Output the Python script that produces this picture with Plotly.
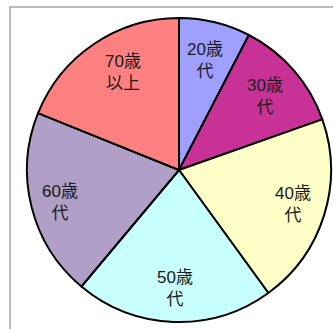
import math
import plotly.graph_objects as go

# Age-group shares (%), clockwise from 12 o'clock
labels = ["20歳代", "30歳代", "40歳代", "50歳代", "60歳代", "70歳以上"]
label_text = ["20歳<br>代", "30歳<br>代", "40歳<br>代", "50歳<br>代", "60歳<br>代", "70歳<br>以上"]
values = [7.6, 12.0, 20.4, 21.1, 20.0, 18.9]
colors = ["#9f9fff", "#c83296", "#ffffc8", "#c8ffff", "#b0a0c8", "#ff8080"]

# small per-label pixel nudges (right, down) for readability
label_nudge = [(-2, 3), (-2, 3), (3, 0), (0, 2), (-6, 4), (9, -1)]

fig = go.Figure(
    go.Pie(
        labels=labels,
        values=values,
        textinfo="none",
        sort=False,
        direction="clockwise",
        rotation=0,
        marker=dict(colors=colors, line=dict(color="black", width=2)),
        showlegend=False,
        hoverinfo="skip",
        domain=dict(x=[0, 1], y=[0, 1]),
    )
)

# place each label along its slice bisector, at a fixed fraction of the radius
total = sum(values)
label_r = 0.5 * 0.765
annotations = []
cum = 0.0
for txt, v, (dx, dy) in zip(label_text, values, label_nudge):
    mid = (cum + v / 2) / total * 2 * math.pi
    cum += v
    annotations.append(
        dict(
            x=0.5 + label_r * math.sin(mid),
            y=0.5 + label_r * math.cos(mid),
            xref="paper",
            yref="paper",
            text=txt,
            showarrow=False,
            xanchor="center",
            yanchor="middle",
            align="center",
            xshift=dx,
            yshift=-dy,
            font=dict(family="Liberation Sans, Noto Sans CJK JP", size=17, color="#1a1a1a"),
        )
    )

fig.update_layout(
    width=333,
    height=329,
    margin=dict(l=27, r=2, t=18, b=7),
    paper_bgcolor="white",
    plot_bgcolor="white",
    annotations=annotations,
    shapes=[
        dict(
            type="rect",
            xref="paper",
            yref="paper",
            x0=-0.056,
            x1=1.2,
            y0=-0.2,
            y1=1.036,
            line=dict(color="#a6a6a6", width=1.5),
            fillcolor="rgba(0,0,0,0)",
            layer="below",
        )
    ],
)

fig.write_html("out.html")
